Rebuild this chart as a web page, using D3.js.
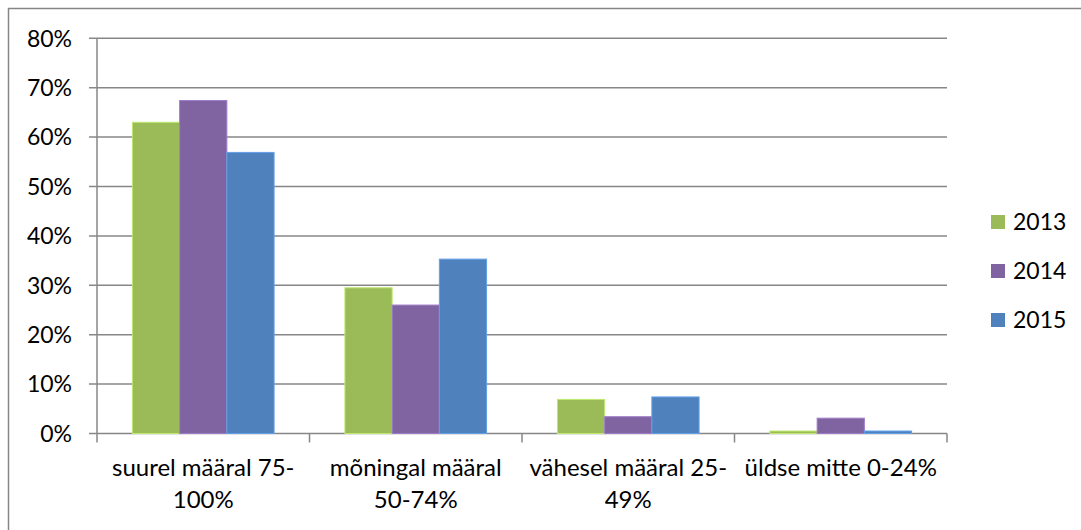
<!DOCTYPE html>
<html>
<head>
<meta charset="utf-8">
<script src="https://cdn.jsdelivr.net/npm/d3@7"></script>
<style>
  html, body { margin: 0; padding: 0; background: #fff; }
  svg { display: block; font-family: Lato, "Open Sans", sans-serif; }
</style>
</head>
<body>
<div id="chart"></div>
<script>
// categories (wrapped the same way as the original labels)
const categories = ['suurel määral 75-100%', 'mõningal määral 50-74%', 'vähesel määral 25-49%', 'üldse mitte 0-24%'];
const categoryLines = [['suurel määral 75-', '100%'], ['mõningal määral', '50-74%'], ['vähesel määral 25-', '49%'], ['üldse mitte 0-24%']];
const years = ['2013', '2014', '2015'];
const values2013 = [0.630, 0.295, 0.069, 0.005];
const values2014 = [0.674, 0.260, 0.034, 0.031];
const values2015 = [0.569, 0.353, 0.074, 0.005];
const yTicks = [0, 0.1, 0.2, 0.3, 0.4, 0.5, 0.6, 0.7, 0.8];
const colors = ['#9BBB59', '#8064A2', '#4F81BD'];

const seriesValues = [values2013, values2014, values2015];

const width = 1081, height = 530;
const plot = { left: 97, right: 947, top: 38.3, bottom: 433.5 };

const svg = d3.select('#chart').append('svg')
  .attr('width', width)
  .attr('height', height);

// chart area border (right and bottom edges fall outside the picture)
svg.append('rect')
  .attr('x', 8.5).attr('y', 8.5)
  .attr('width', width + 20).attr('height', height + 20)
  .attr('fill', '#fff')
  .attr('stroke', '#868686')
  .attr('stroke-width', 1.5);

const x = d3.scaleBand().domain(categories).range([plot.left, plot.right]);
const xInner = d3.scaleBand().domain(years).range([0, x.bandwidth()]).paddingInner(0).paddingOuter(0.75);
const y = d3.scaleLinear().domain([0, 0.8]).range([plot.bottom, plot.top]);

// gridlines
svg.append('g')
  .selectAll('line')
  .data(yTicks)
  .join('line')
  .attr('x1', plot.left - 8).attr('x2', plot.right)
  .attr('y1', d => y(d)).attr('y2', d => y(d))
  .attr('stroke', '#878787')
  .attr('stroke-width', 1.5);

// y axis labels
svg.append('g')
  .selectAll('text')
  .data(yTicks)
  .join('text')
  .attr('x', 72)
  .attr('y', d => y(d))
  .attr('dy', '0.36em')
  .attr('text-anchor', 'end')
  .attr('font-size', '23px')
  .attr('fill', '#000')
  .text(d => d3.format('.0%')(d));

// bars
const groups = svg.append('g')
  .selectAll('g')
  .data(categories)
  .join('g')
  .attr('transform', d => `translate(${x(d)},0)`);

groups.selectAll('rect')
  .data((c, i) => years.map((yr, j) => ({ year: yr, value: seriesValues[j][i], color: colors[j] })))
  .join('rect')
  .attr('x', d => xInner(d.year))
  .attr('width', xInner.bandwidth())
  .attr('y', d => y(d.value))
  .attr('height', d => plot.bottom - y(d.value))
  .attr('fill', d => d.color)
  .attr('stroke', d => d3.color(d.color).brighter(0.6))
  .attr('stroke-width', 1);

// y axis line
svg.append('line')
  .attr('x1', plot.left).attr('x2', plot.left)
  .attr('y1', plot.top).attr('y2', plot.bottom)
  .attr('stroke', '#878787')
  .attr('stroke-width', 1.5);

// category axis ticks
const tickXs = categories.map(c => x(c)).concat([plot.right]);
svg.append('g')
  .selectAll('line')
  .data(tickXs)
  .join('line')
  .attr('x1', d => d).attr('x2', d => d)
  .attr('y1', plot.bottom).attr('y2', plot.bottom + 9)
  .attr('stroke', '#878787')
  .attr('stroke-width', 1.5);

// category labels
svg.append('g')
  .selectAll('text')
  .data(categories)
  .join('text')
  .attr('text-anchor', 'middle')
  .attr('font-size', '24px')
  .attr('fill', '#000')
  .each(function(c, i) {
    const t = d3.select(this);
    categoryLines[i].forEach((line, k) => {
      t.append('tspan')
        .attr('x', x(c) + x.bandwidth() / 2)
        .attr('y', 476 + k * 32)
        .text(line);
    });
  });

// legend
const legend = svg.append('g')
  .selectAll('g')
  .data(years)
  .join('g')
  .attr('transform', (d, i) => `translate(991,${222 + i * 49})`);

legend.append('rect')
  .attr('x', 0).attr('y', -7)
  .attr('width', 14).attr('height', 14)
  .attr('fill', (d, i) => colors[i]);

legend.append('text')
  .attr('x', 22)
  .attr('y', 0)
  .attr('dy', '0.36em')
  .attr('font-size', '23px')
  .attr('fill', '#000')
  .text(d => d);
</script>
</body>
</html>
